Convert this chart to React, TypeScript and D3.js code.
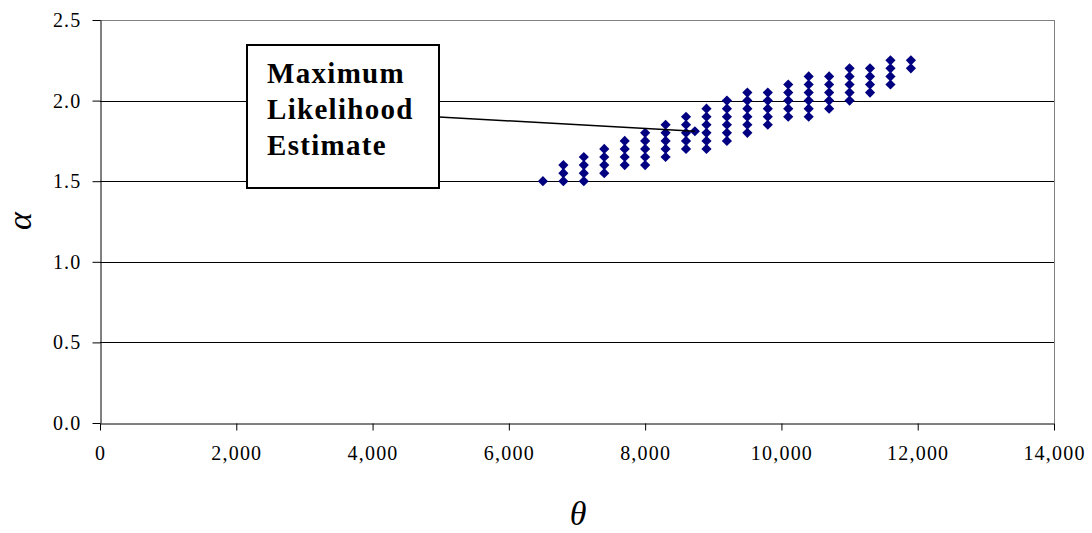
import React, { useEffect, useRef } from "react";
import * as d3 from "d3";

// Grid of (theta, alpha) pairs: one column per theta value with its alpha values
const thetaColumns = [6500, 6800, 7100, 7400, 7700, 8000, 8300, 8600, 8900, 9200, 9500, 9800, 10100, 10400, 10700, 11000, 11300, 11600, 11900];
const alphaColumns = [
  [1.5],
  [1.5, 1.55, 1.6],
  [1.5, 1.55, 1.6, 1.65],
  [1.55, 1.6, 1.65, 1.7],
  [1.6, 1.65, 1.7, 1.75],
  [1.6, 1.65, 1.7, 1.75, 1.8],
  [1.65, 1.7, 1.75, 1.8, 1.85],
  [1.7, 1.75, 1.8, 1.85, 1.9],
  [1.7, 1.75, 1.8, 1.85, 1.9, 1.95],
  [1.75, 1.8, 1.85, 1.9, 1.95, 2.0],
  [1.8, 1.85, 1.9, 1.95, 2.0, 2.05],
  [1.85, 1.9, 1.95, 2.0, 2.05],
  [1.9, 1.95, 2.0, 2.05, 2.1],
  [1.9, 1.95, 2.0, 2.05, 2.1, 2.15],
  [1.95, 2.0, 2.05, 2.1, 2.15],
  [2.0, 2.05, 2.1, 2.15, 2.2],
  [2.05, 2.1, 2.15, 2.2],
  [2.1, 2.15, 2.2, 2.25],
  [2.2, 2.25],
];
const mleTheta = 8730;
const mleAlpha = 1.81;

const xTicks = [0, 2000, 4000, 6000, 8000, 10000, 12000, 14000];
const yTicks = [0, 0.5, 1.0, 1.5, 2.0, 2.5];
const annotationLines = ["Maximum", "Likelihood", "Estimate"];

const W = 1092;
const H = 533;
const plot = { left: 100, right: 1054, top: 20, bottom: 423 };
const serif = "'Liberation Serif', 'Times New Roman', serif";

export default function App() {
  const ref = useRef<SVGSVGElement | null>(null);

  useEffect(() => {
    const svg = d3.select(ref.current);
    svg.selectAll("*").remove();

    const x = d3.scaleLinear().domain([0, 14000]).range([plot.left, plot.right]);
    const y = d3.scaleLinear().domain([0, 2.5]).range([plot.bottom, plot.top]);

    // horizontal gridlines
    svg.append("g")
      .selectAll("line")
      .data(yTicks.filter((t) => t > 0 && t < 2.5))
      .join("line")
      .attr("x1", plot.left).attr("x2", plot.right)
      .attr("y1", (d) => Math.round(y(d)) + 0.5).attr("y2", (d) => Math.round(y(d)) + 0.5)
      .attr("stroke", "#000").attr("stroke-width", 1);

    // plot-area frame: grey top and right edges
    svg.append("line")
      .attr("x1", plot.left).attr("x2", plot.right)
      .attr("y1", plot.top + 0.5).attr("y2", plot.top + 0.5)
      .attr("stroke", "#808080");
    svg.append("line")
      .attr("x1", plot.right + 0.5).attr("x2", plot.right + 0.5)
      .attr("y1", plot.top).attr("y2", plot.bottom)
      .attr("stroke", "#808080");

    // x axis
    const xAxis = d3.axisBottom(x)
      .tickValues(xTicks)
      .tickFormat((d) => d3.format(",")(d as number))
      .tickSize(7)
      .tickSizeOuter(0)
      .tickPadding(15);
    const gx = svg.append("g")
      .attr("transform", `translate(0,${plot.bottom + 0.5})`)
      .call(xAxis);
    gx.select(".domain").attr("stroke", "#000");
    gx.selectAll(".tick line").attr("stroke", "#000");
    gx.selectAll(".tick text")
      .attr("font-family", serif).attr("font-size", 20).attr("letter-spacing", 1.2)
      .attr("fill", "#000");

    // y axis
    const yAxis = d3.axisLeft(y)
      .tickValues(yTicks)
      .tickFormat((d) => d3.format(".1f")(d as number))
      .tickSize(8)
      .tickSizeOuter(0)
      .tickPadding(11);
    const gy = svg.append("g")
      .attr("transform", `translate(${plot.left + 0.5},0)`)
      .call(yAxis);
    gy.select(".domain").attr("stroke", "#000");
    gy.selectAll(".tick line").attr("stroke", "#000");
    gy.selectAll(".tick text")
      .attr("font-family", serif).attr("font-size", 20).attr("letter-spacing", 1.2)
      .attr("fill", "#000");

    // scatter of diamonds
    const points = thetaColumns.flatMap((t, i) => alphaColumns[i].map((a) => ({ t, a })));
    const diamond = d3.symbol().type(d3.symbolDiamond2).size(66);
    svg.append("g")
      .selectAll("path")
      .data(points)
      .join("path")
      .attr("d", diamond)
      .attr("transform", (d) => `translate(${x(d.t)},${y(d.a)})`)
      .attr("fill", "#000080");

    svg.append("path")
      .attr("d", diamond)
      .attr("transform", `translate(${x(mleTheta)},${y(mleAlpha)})`)
      .attr("fill", "#000080");

    // annotation callout
    const box = { x: 247, y: 45, w: 192, h: 143 };
    svg.append("line")
      .attr("x1", box.x + box.w).attr("y1", 117)
      .attr("x2", x(mleTheta)).attr("y2", y(mleAlpha))
      .attr("stroke", "#000").attr("stroke-width", 1.5);
    svg.append("rect")
      .attr("x", box.x).attr("y", box.y)
      .attr("width", box.w).attr("height", box.h)
      .attr("fill", "#fff").attr("stroke", "#000").attr("stroke-width", 2);
    svg.append("g")
      .selectAll("text")
      .data(annotationLines)
      .join("text")
      .attr("x", box.x + 20)
      .attr("y", (_, i) => 83 + i * 36)
      .attr("font-family", serif)
      .attr("font-weight", "bold")
      .attr("font-size", 29)
      .attr("letter-spacing", 1.3)
      .attr("fill", "#000")
      .text((d) => d);

    // axis titles
    svg.append("text")
      .attr("transform", "translate(31,221) rotate(-90)")
      .attr("text-anchor", "middle")
      .attr("font-family", serif)
      .attr("font-style", "italic")
      .attr("font-size", 34)
      .attr("fill", "#000")
      .text("α");
    svg.append("text")
      .attr("x", 578).attr("y", 525)
      .attr("text-anchor", "middle")
      .attr("font-family", serif)
      .attr("font-style", "italic")
      .attr("font-size", 34)
      .attr("fill", "#000")
      .text("θ");
  }, []);

  return (
    <svg
      ref={ref}
      width={W}
      height={H}
      style={{ position: "absolute", left: 0, top: 0, background: "#fff" }}
    />
  );
}
